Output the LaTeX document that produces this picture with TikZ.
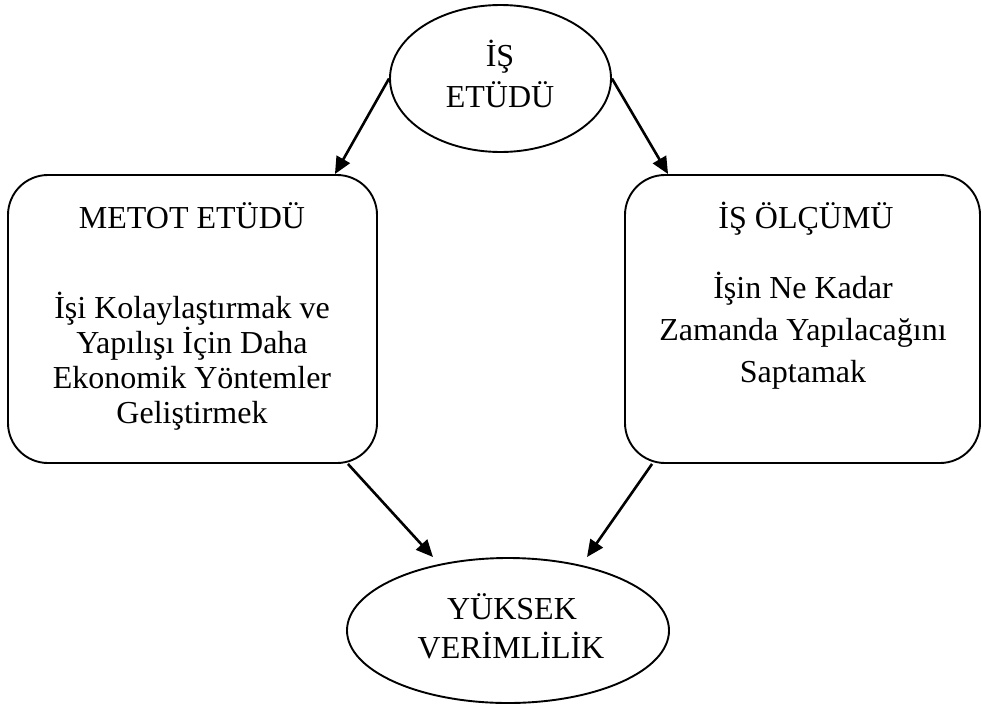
\documentclass[tikz,border=0pt]{standalone}
\usepackage{fontspec}
\setmainfont{Liberation Serif}
\usetikzlibrary{shapes.geometric,arrows.meta}
\begin{document}
\begin{tikzpicture}[x=1pt,y=-1pt,
  oval/.style={draw,line width=1.9pt,ellipse,inner sep=0pt},
  card/.style={draw,line width=1.9pt,rectangle,rounded corners=40pt,inner sep=0pt},
  lbl/.style={anchor=base,inner sep=0pt,font=\fontsize{32}{38}\selectfont},
  flow/.style={line width=2.6pt,-{Triangle[length=17pt,width=15pt]}}]
\useasboundingbox (0,0) rectangle (982,704);

% shapes
\node[oval,minimum width=221pt,minimum height=147pt] (top) at (500.5,78.5) {};
\node[card,minimum width=369pt,minimum height=288pt] (lbox) at (192.5,319) {};
\node[card,minimum width=355pt,minimum height=288pt] (rbox) at (802.5,319) {};
\node[oval,minimum width=322pt,minimum height=145pt] (bot) at (508,630.5) {};

% texts
\node[lbl] (t1) at (500,66) {İŞ};
\node[lbl] (t2) at (500,107) {ETÜDÜ};

\node[lbl] (l0) at (192,228) {METOT ETÜDÜ};
\node[lbl] (l1) at (192,318) {İşi Kolaylaştırmak ve};
\node[lbl] (l2) at (192,353) {Yapılışı İçin Daha};
\node[lbl] (l3) at (192,388) {Ekonomik Yöntemler};
\node[lbl] (l4) at (192,423) {Geliştirmek};

\node[lbl] (r0) at (806,228) {İŞ ÖLÇÜMÜ};
\node[lbl] (r1) at (803,298) {İşin Ne Kadar};
\node[lbl] (r2) at (803,340) {Zamanda Yapılacağını};
\node[lbl] (r3) at (803,382) {Saptamak};

\node[lbl] (b1) at (512,619) {YÜKSEK};
\node[lbl] (b2) at (511,658) {VERİMLİLİK};

% connectors
\draw[flow] (top.180) -- ([xshift=-43pt]lbox.north east);
\draw[flow] (top.0) -- ([xshift=44pt]rbox.north west);
\draw[flow] ([xshift=-30pt]lbox.south east) -- ([xshift=-75pt]bot.north);
\draw[flow] ([xshift=28pt]rbox.south west) -- ([xshift=79pt]bot.north);
\end{tikzpicture}
\end{document}
